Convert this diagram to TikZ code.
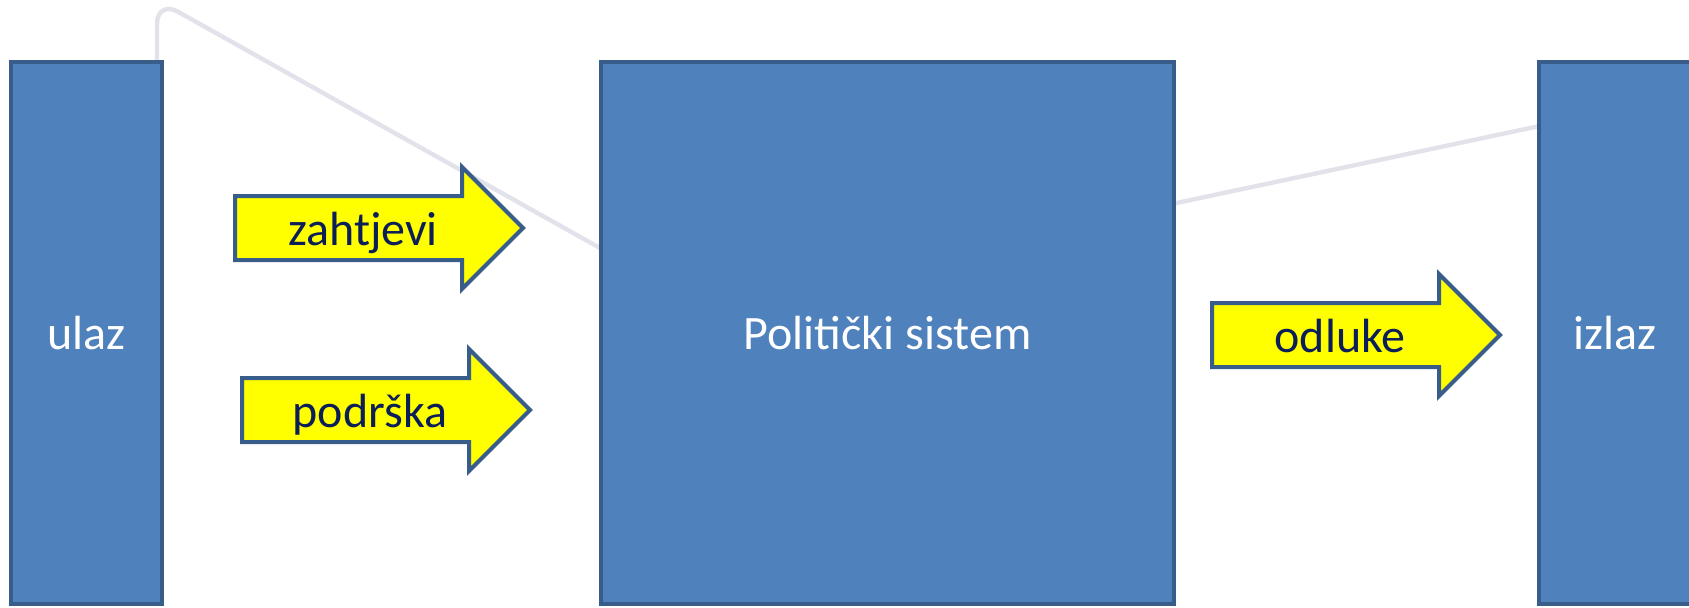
\documentclass[tikz,border=0pt]{standalone}
\usepackage{fontspec}
\setmainfont{Carlito}
\usetikzlibrary{shapes.arrows, backgrounds, positioning}
\definecolor{boxblue}{RGB}{79,129,189}
\definecolor{boxedge}{RGB}{56,93,138}
\definecolor{arrowyellow}{RGB}{255,255,0}
\definecolor{labelnavy}{RGB}{12,30,88}
\definecolor{loopgrey}{RGB}{226,226,234}
\newcommand{\arrowlabel}[1]{\makebox[126pt]{#1}}

\tikzset{
  block/.style={draw=boxedge, fill=boxblue, line width=2pt, text=white, minimum height=271pt, inner sep=0pt, outer sep=0pt},
  flow/.style={single arrow, draw=boxedge, fill=arrowyellow, line width=2pt, single arrow head extend=14.5pt, single arrow tip angle=90, inner sep=0pt, outer sep=0pt, text height=23.5pt, text depth=6.5pt, text=labelnavy, anchor=tail},
  feedback/.style={draw=loopgrey, line width=2.2pt, rounded corners=12pt},
}

\begin{document}
\begin{tikzpicture}[x=0.5pt, y=-0.5pt, font=\fontsize{24pt}{29pt}\selectfont]
    \useasboundingbox (0,0) rectangle (1689,607);
    % boxes
    \node[block, minimum width=75.5pt] (ulaz) at (86.5,333) {ulaz};
    \node[block, minimum width=286.5pt] (sistem) at (887.5,333) {Politički sistem};
    \node[block, minimum width=76pt] (izlaz) at (1615,333) {izlaz};
    % inputs and outputs
    \node[flow] (zahtjevi) at (235,228) {\arrowlabel{zahtjevi}};
    \node[flow] (podrska) at (242,410) {\arrowlabel{podrška}};
    \node[flow] (odluke) at (1212,335) {\arrowlabel{odluke}};
    % feedback loop
    \begin{scope}[on background layer]
        \coordinate (fbtop) at (157,0);
        \coordinate (fbbend) at (700,304);
        \coordinate (fbend) at (1615,110);
        \draw[feedback] (fbend) -- (fbbend) -- (fbtop) -- (fbtop |- ulaz.north);
    \end{scope}
\end{tikzpicture}
\end{document}
